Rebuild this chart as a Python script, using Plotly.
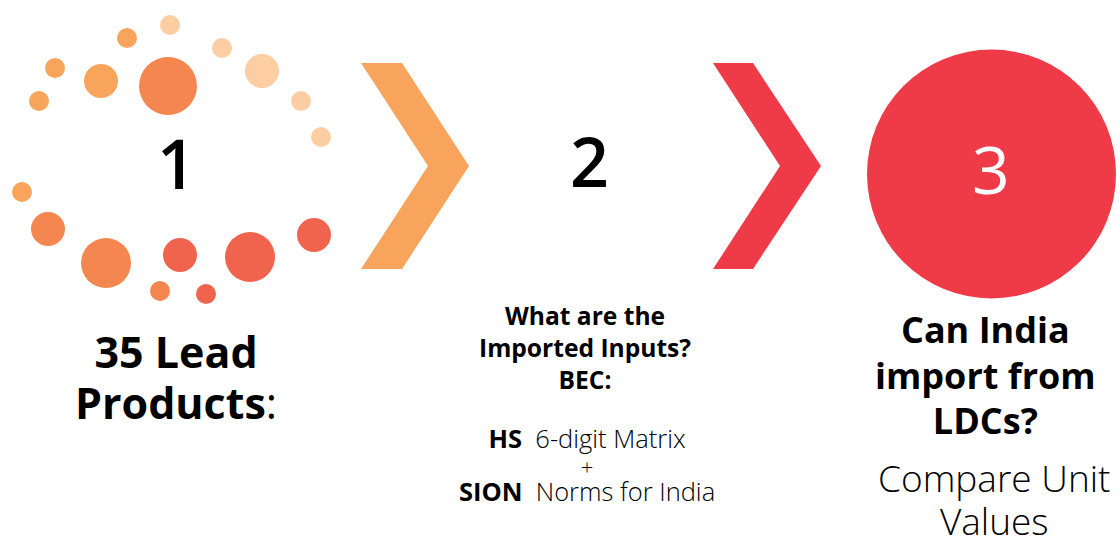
import plotly.graph_objects as go

# ---- data ----
dot_x = [170, 127, 55, 101, 168, 222, 262, 301, 321, 39, 22, 48, 106, 160, 180, 206, 250, 314]
dot_y = [25, 38, 68, 81, 86, 48, 71, 101, 137, 101, 192, 229, 263, 291, 255, 294, 257, 235]
dot_r = [10, 10, 10, 17, 29, 10, 17, 10, 10, 10, 10, 17, 25, 10, 17, 10, 25, 17]
dot_color = ["#FDCDA3", "#F8A45C", "#F8A45C", "#F8A45C", "#F4874F", "#FDCDA3", "#FDCDA3",
             "#FDCDA3", "#FDCDA3", "#F8A45C", "#F8A45C", "#F4874F", "#F4874F", "#F4874F",
             "#F0644E", "#F0644E", "#F0644E", "#F0644E"]

chev1_x = [361, 402, 469, 402, 361, 428, 361]
chev1_y = [63, 63, 166, 269, 269, 166, 63]
chev2_x = [713, 753, 821, 753, 713, 780, 713]
chev2_y = [63, 63, 166, 269, 269, 166, 63]

big_x = [991.5]
big_y = [174]
big_r = [124.5]

FONT = "Open Sans"

fig = go.Figure()

fig.add_trace(go.Scatter(x=chev1_x, y=chev1_y, fill="toself", fillcolor="#F8A45C",
                         mode="lines", line=dict(width=0, color="#F8A45C"), hoverinfo="skip"))
fig.add_trace(go.Scatter(x=chev2_x, y=chev2_y, fill="toself", fillcolor="#EF3A48",
                         mode="lines", line=dict(width=0, color="#EF3A48"), hoverinfo="skip"))
fig.add_trace(go.Scatter(x=dot_x, y=dot_y, mode="markers",
                         marker=dict(size=[2 * r for r in dot_r], color=dot_color, opacity=1,
                                     line=dict(width=0), sizemode="diameter"),
                         hoverinfo="skip"))
fig.add_trace(go.Scatter(x=big_x, y=big_y, mode="markers",
                         marker=dict(size=[2 * r for r in big_r], color="#EF3A48", opacity=1,
                                     line=dict(width=0)),
                         hoverinfo="skip"))

def ann(x, y, text, size, color="black", weight=400):
    fig.add_annotation(x=x, y=y, xref="x", yref="y", text=text, showarrow=False,
                       xanchor="center", yanchor="middle", align="center",
                       font=dict(family=FONT, size=size, color=color, weight=weight))

def fs(t, px):
    return f"<span style='font-size:{px}px'>{t}</span>"

ann(176, 162, "1", 68, weight=600)
ann(589, 160, "2", 68, weight=600)
ann(991, 168, "3", 66, color="white", weight=400)

ann(176, 377, fs("<b>35 Lead</b>", 43) + "<br>" + fs("<b>Products</b>:", 43), 39.2)

ann(585, 347, "<b>What are the</b><br><b>Imported Inputs?</b><br><b>BEC:</b>", 24.6)

ann(587, 464, fs("<b>HS</b>  6-digit Matrix", 25.5) + "<br>" + fs("+", 22) + "<br>"
    + fs("<b>SION</b>  Norms for India", 25.5), 20.4, weight=300)

ann(985, 375, fs("<b>Can India</b>", 36) + "<br>" + fs("<b>import from</b>", 36) + "<br>"
    + fs("<b>LDCs?</b>", 36), 35)

ann(994, 499, fs("Compare Unit", 37) + "<br>" + fs("Values", 37), 33, weight=300)

fig.update_layout(
    width=1120, height=539,
    margin=dict(l=0, r=0, t=0, b=0),
    paper_bgcolor="white", plot_bgcolor="white",
    showlegend=False,
    xaxis=dict(range=[0, 1120], visible=False, fixedrange=True),
    yaxis=dict(range=[539, 0], visible=False, fixedrange=True),
)

fig.write_html("out.html", config={"displayModeBar": False},
               post_script="document.body.style.margin='0';document.body.style.overflow='hidden';")
